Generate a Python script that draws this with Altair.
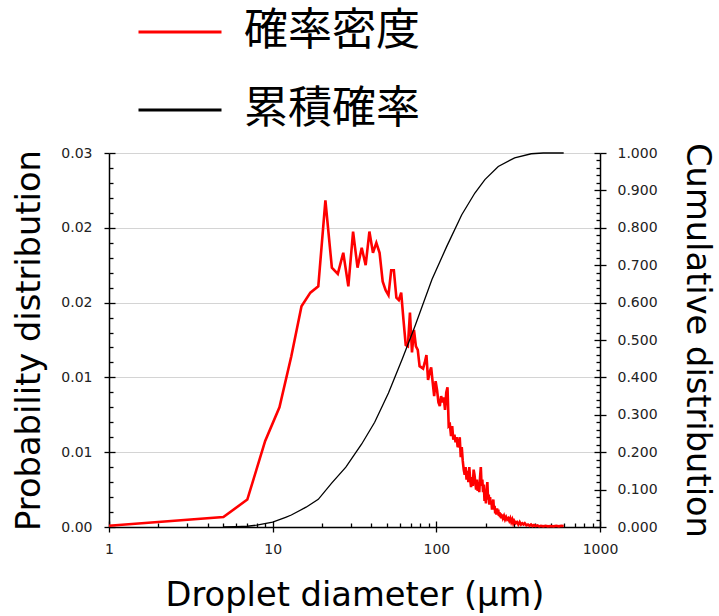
import altair as alt
import pandas as pd

# ---------------- data ----------------
series_names = ["確率密度", "累積確率"]
series_colors = ["#ff0000", "#000000"]

diameters = [
    1,
    5, 7, 9, 11, 13, 15, 17, 19, 21, 23,
    25, 27, 29, 31, 33, 35, 37, 39, 41, 43,
    45, 47, 49, 51, 53, 55, 57, 59, 61, 63,
    65, 67, 69, 71, 73, 75, 77, 79, 81, 83,
    85, 87, 89, 91, 93, 95, 97, 99, 101, 103,
    105, 107, 109, 111, 113, 115, 117, 119, 121, 123,
    125, 127, 129, 131, 133, 135, 137, 139, 141, 143,
    145, 147, 149, 151, 153, 155, 157, 159, 161, 163,
    165, 167, 169, 171, 173, 175, 177, 179, 181, 183,
    185, 187, 189, 191, 193, 195, 197, 199, 201, 203,
    205, 207, 209, 211, 213, 215, 217, 219, 221, 223,
    225, 227, 229, 231, 233, 235, 237, 239, 241, 243,
    245, 247, 249, 251,
    255, 259, 263, 267, 271, 275, 279, 283, 287, 291, 295, 299,
    305, 311, 317, 323, 329, 335, 341, 347,
    355, 363, 371, 379, 387, 395,
    405, 415, 425, 435,
    450, 465, 480,
    500, 520, 540, 560, 580, 600,
]
density = [
    0.0001,
    0.0008, 0.0022, 0.0069, 0.0096, 0.0137, 0.0177, 0.0188, 0.0193, 0.0262, 0.0208,
    0.0203, 0.0220, 0.0193, 0.0237, 0.0208, 0.0224, 0.0210, 0.0237, 0.0220, 0.0228,
    0.0220, 0.0197, 0.0190, 0.0186, 0.0206, 0.0206, 0.0184, 0.0182, 0.0188, 0.0166,
    0.0146, 0.0145, 0.0172, 0.0140, 0.0158, 0.0145, 0.0142, 0.0129, 0.0128, 0.0127,
    0.0132, 0.0138, 0.0118, 0.0124, 0.0128, 0.0116, 0.0105, 0.0117, 0.0110, 0.0100,
    0.0097, 0.0105, 0.0100, 0.0104, 0.0094, 0.0108, 0.0112, 0.0081, 0.0082, 0.0073,
    0.0081, 0.0070, 0.0074, 0.0068, 0.0072, 0.0064, 0.0066, 0.0072, 0.0056, 0.0064,
    0.0053, 0.0046, 0.0042, 0.0048, 0.0038, 0.0045, 0.0036, 0.0048, 0.0038, 0.0032,
    0.0040, 0.0033, 0.0046, 0.0042, 0.0036, 0.0030, 0.0038, 0.0029, 0.0036, 0.0028,
    0.0040, 0.0048, 0.0033, 0.0038, 0.0028, 0.0034, 0.0021, 0.0025, 0.0019, 0.0030,
    0.0036, 0.0022, 0.0026, 0.0018, 0.0024, 0.0018, 0.0021, 0.0014, 0.0019, 0.0022,
    0.0014, 0.0017, 0.0011, 0.0014, 0.0010, 0.0015, 0.0011, 0.0014, 0.0009, 0.0012,
    0.0008, 0.0011, 0.0007, 0.0010,
    0.0007, 0.0009, 0.0006, 0.0008, 0.0006, 0.0007, 0.0005, 0.0007, 0.0004, 0.0006, 0.0003, 0.0005,
    0.0003, 0.0004, 0.0002, 0.0004, 0.0002, 0.0003, 0.0002, 0.0003,
    0.00013, 0.0002, 0.0001, 0.0002, 0.00008, 0.00016,
    0.00008, 0.00013, 0.00005, 0.0001,
    0.00005, 0.0001, 0.00005,
    0.00008, 0.00005, 0.0001, 0.00005, 0.0001, 0.00008,
]

cum_diameters = [5, 6, 7, 8, 10, 12, 13, 16, 19, 23, 28, 35, 42, 51, 62, 74,
                 94, 116, 143, 172, 198, 239, 301, 380, 450, 600]
cumulative = [0.0, 0.001, 0.002, 0.005, 0.013, 0.026, 0.032, 0.053, 0.074, 0.118,
              0.160, 0.222, 0.280, 0.358, 0.450, 0.537, 0.662, 0.751, 0.835, 0.893,
              0.929, 0.964, 0.987, 0.998, 1.0, 1.0]

assert len(diameters) == len(density)
assert len(cum_diameters) == len(cumulative)

x_major = [1, 10, 100, 1000]
x_minor = [2, 3, 4, 5, 6, 7, 8, 9, 20, 30, 40, 50, 60, 70, 80, 90,
           200, 300, 400, 500, 600, 700, 800, 900]
left_major = [0, 0.006, 0.012, 0.018, 0.024, 0.03]
left_minor = [round(i * 0.0012, 5) for i in range(26) if i % 5]
right_major = [round(i * 0.1, 2) for i in range(11)]
right_minor = [round(i * 0.02, 2) for i in range(51) if i % 5]

# ---------------- chart ----------------
W, H = 491, 374
FONT = "DejaVu Sans"

red_df = pd.DataFrame({"d": diameters, "v": density, "s": series_names[0]})
cum_df = pd.DataFrame({"d": cum_diameters, "v": cumulative, "s": series_names[1]})

xs = alt.Scale(type="log", domain=[1, 1000])
yls = alt.Scale(domain=[0, 0.03])
yrs = alt.Scale(domain=[0, 1])

color = alt.Color(
    "s:N",
    scale=alt.Scale(domain=series_names, range=series_colors),
    legend=alt.Legend(
        title=None, orient="none", legendX=28, legendY=-164, direction="vertical",
        symbolType="stroke", symbolSize=83 * 83, symbolStrokeWidth=3,
        labelFont="Noto Sans CJK JP", labelFontSize=44, labelColor="#000",
        labelOffset=21, labelLimit=0, rowPadding=13, padding=0,
    ),
)

common = dict(
    tickColor="#000", tickWidth=1.3, domainColor="#000", domainWidth=1.5,
    labelFont=FONT, labelFontSize=14, labelColor="#222",
    titleFont=FONT, titleFontSize=33.7, titleFontWeight="normal", titleColor="#000",
)


def inner_axis(orient, offset, values, size):
    return alt.Axis(orient=orient, offset=offset, values=values, tickSize=size,
                    labels=False, domain=False, grid=False, title=None,
                    tickColor="#000", tickWidth=1.3)


x_main = alt.Axis(orient="bottom", values=x_major, format="d", labelFlush=False,
                  title="Droplet diameter (μm)", tickSize=5, labelPadding=10,
                  titlePadding=22, grid=False, **common)
y_left = alt.Axis(orient="left", values=left_major, format=".2f",
                  title="Probability distribution", tickSize=5, labelPadding=12,
                  titlePadding=14, grid=True, gridColor="#d4d4d4", gridWidth=1, **common)
y_right = alt.Axis(orient="right", values=right_major, format=".3f",
                   title="Cumulative distribution", tickSize=6, labelPadding=11,
                   titlePadding=22, grid=False, **common)

red = alt.Chart(red_df).mark_line(strokeWidth=2.6).encode(
    x=alt.X("d:Q", scale=xs, axis=x_main),
    y=alt.Y("v:Q", scale=yls, axis=y_left),
    color=color,
)
black = alt.Chart(cum_df).mark_line(strokeWidth=1.3).encode(
    x=alt.X("d:Q", scale=xs, axis=None),
    y=alt.Y("v:Q", scale=yrs, axis=y_right),
    color=color,
)
# invisible layers that only carry the inward-pointing tick marks
ghost_minor_left = alt.Chart(red_df).mark_point(opacity=0).encode(
    x=alt.X("d:Q", scale=xs, axis=inner_axis("top", -H, x_minor, 4)),
    y=alt.Y("v:Q", scale=yls, axis=inner_axis("right", -W, left_minor, 4)),
)
ghost_major_left = alt.Chart(red_df).mark_point(opacity=0).encode(
    x=alt.X("d:Q", scale=xs, axis=inner_axis("top", -H, x_major, 6)),
    y=alt.Y("v:Q", scale=yls, axis=inner_axis("right", -W, left_major, 6)),
)
ghost_minor_right = alt.Chart(cum_df).mark_point(opacity=0).encode(
    x=alt.X("d:Q", scale=xs, axis=None),
    y=alt.Y("v:Q", scale=yrs, axis=inner_axis("left", -W, right_minor, 4)),
)
ghost_major_right = alt.Chart(cum_df).mark_point(opacity=0).encode(
    x=alt.X("d:Q", scale=xs, axis=None),
    y=alt.Y("v:Q", scale=yrs, axis=inner_axis("left", -W, right_major, 6)),
)

chart = (
    alt.layer(red, black, ghost_minor_left, ghost_major_left,
              ghost_minor_right, ghost_major_right)
    .resolve_scale(y="independent")
    .resolve_axis(x="independent", y="independent")
    .properties(
        width=W, height=H,
        padding={"left": 109, "top": 153, "right": 719 - 109 - W, "bottom": 616 - 153 - H},
        autosize=alt.AutoSizeParams(type="none"),
        background="white",
    )
    .configure_view(stroke="transparent")
)

chart.save("out.html", embed_options={"renderer": "svg", "actions": False})
